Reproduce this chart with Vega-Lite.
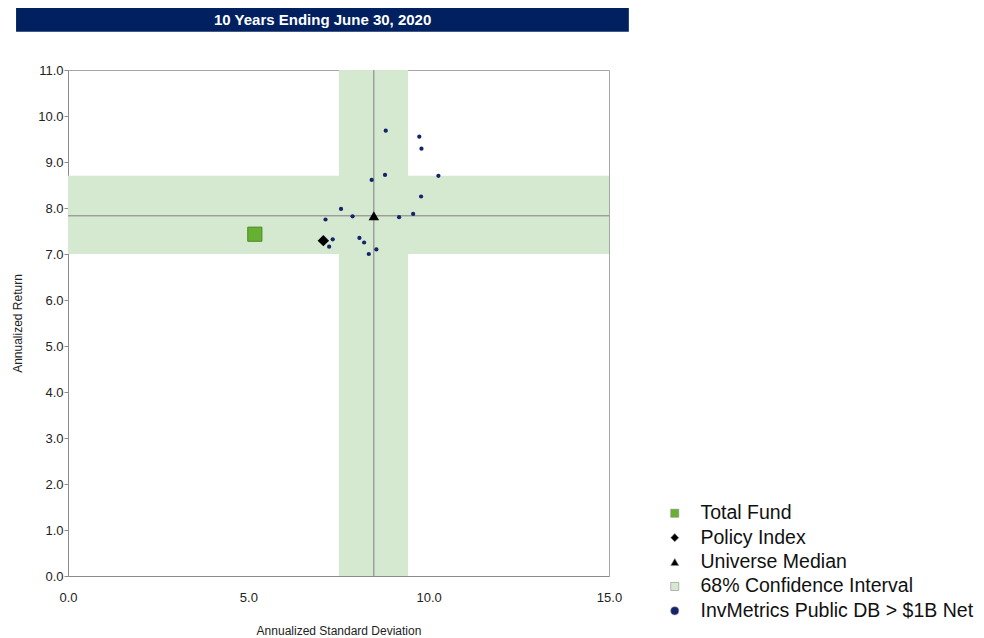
{
  "$schema": "https://vega.github.io/schema/vega-lite/v6.json",
  "autosize": {"type": "none"},
  "width": 541,
  "height": 506,
  "padding": {"left": 68, "top": 70, "right": 375, "bottom": 62},
  "background": "white",
  "config": {
    "view": {"stroke": "#a6a6a6", "strokeWidth": 1},
    "font": "Liberation Sans",
    "axis": {"grid": false, "labelFont": "Liberation Sans", "titleFont": "Liberation Sans", "labelColor": "#222", "titleColor": "#222", "titleFontWeight": "normal", "domainColor": "#8c8c8c", "tickColor": "#8c8c8c"},
    "legend": {"labelFont": "Liberation Sans", "labelFontSize": 19.5, "labelColor": "#111", "labelLimit": 0, "symbolSize": 65, "symbolStrokeWidth": 0.6, "symbolStrokeColor": "#8a8a8a"}
  },
  "datasets": {
    "points": [
      {"series": "Total Fund", "sd": 5.18, "ret": 7.43},
      {"series": "Policy Index", "sd": 7.08, "ret": 7.29},
      {"series": "Universe Median", "sd": 8.48, "ret": 7.83},
      {"series": "InvMetrics Public DB > $1B Net", "sd": 8.81, "ret": 9.68},
      {"series": "InvMetrics Public DB > $1B Net", "sd": 9.74, "ret": 9.55},
      {"series": "InvMetrics Public DB > $1B Net", "sd": 9.80, "ret": 9.29},
      {"series": "InvMetrics Public DB > $1B Net", "sd": 10.27, "ret": 8.70},
      {"series": "InvMetrics Public DB > $1B Net", "sd": 8.79, "ret": 8.72},
      {"series": "InvMetrics Public DB > $1B Net", "sd": 8.42, "ret": 8.61},
      {"series": "InvMetrics Public DB > $1B Net", "sd": 9.79, "ret": 8.25},
      {"series": "InvMetrics Public DB > $1B Net", "sd": 7.57, "ret": 7.98},
      {"series": "InvMetrics Public DB > $1B Net", "sd": 7.14, "ret": 7.75},
      {"series": "InvMetrics Public DB > $1B Net", "sd": 7.89, "ret": 7.82},
      {"series": "InvMetrics Public DB > $1B Net", "sd": 9.18, "ret": 7.80},
      {"series": "InvMetrics Public DB > $1B Net", "sd": 9.57, "ret": 7.87},
      {"series": "InvMetrics Public DB > $1B Net", "sd": 7.34, "ret": 7.32},
      {"series": "InvMetrics Public DB > $1B Net", "sd": 7.24, "ret": 7.16},
      {"series": "InvMetrics Public DB > $1B Net", "sd": 8.08, "ret": 7.35},
      {"series": "InvMetrics Public DB > $1B Net", "sd": 8.21, "ret": 7.25},
      {"series": "InvMetrics Public DB > $1B Net", "sd": 8.34, "ret": 7.00},
      {"series": "InvMetrics Public DB > $1B Net", "sd": 8.55, "ret": 7.10}
    ],
    "ci": [
      {"sd_lo": 7.51, "sd_hi": 9.43, "ret_lo": 7.0, "ret_hi": 8.70, "sd_med": 8.48, "ret_med": 7.83}
    ],
    "heading": [
      {"label": "10 Years Ending June 30, 2020"}
    ]
  },
  "encoding": {
    "x": {"type": "quantitative", "scale": {"domain": [0, 15], "nice": false, "zero": false}, "axis": {"values": [0, 5, 10, 15], "format": ".1f", "title": "Annualized Standard Deviation", "labelFontSize": 13, "titleFontSize": 12, "ticks": false, "labelPadding": 15, "titleY": 54, "titleBaseline": "middle", "labelFlush": false}},
    "y": {"type": "quantitative", "scale": {"domain": [0, 11], "nice": false, "zero": false}, "axis": {"values": [0, 1, 2, 3, 4, 5, 6, 7, 8, 9, 10, 11], "format": ".1f", "title": "Annualized Return", "labelFontSize": 13, "titleFontSize": 12, "tickSize": 4, "labelPadding": 1, "titleX": -51, "titleY": 253, "titleAlign": "center", "titleBaseline": "middle", "labelFlush": false}}
  },
  "layer": [
    {
      "data": {"name": "ci"},
      "mark": {"type": "rect", "color": "#d5e8d0"},
      "encoding": {"x": {"field": "sd_lo"}, "x2": {"field": "sd_hi"}, "y": {"datum": 0}, "y2": {"datum": 11}}
    },
    {
      "data": {"name": "ci"},
      "mark": {"type": "rect", "color": "#d5e8d0"},
      "encoding": {"y": {"field": "ret_lo"}, "y2": {"field": "ret_hi"}, "x": {"datum": 0}, "x2": {"datum": 15}}
    },
    {
      "data": {"name": "ci"},
      "mark": {"type": "rule", "color": "#7f7f7f", "strokeWidth": 1},
      "encoding": {"x": {"field": "sd_med"}, "y": {"datum": 0}, "y2": {"datum": 11}}
    },
    {
      "data": {"name": "ci"},
      "mark": {"type": "rule", "color": "#7f7f7f", "strokeWidth": 1},
      "encoding": {"y": {"field": "ret_med"}, "x": {"datum": 0}, "x2": {"datum": 15}}
    },
    {
      "data": {"name": "points"},
      "transform": [{"filter": "datum.series === 'InvMetrics Public DB > $1B Net'"}],
      "mark": {"type": "point", "filled": true, "opacity": 1, "size": 18},
      "encoding": {
        "x": {"field": "sd"}, "y": {"field": "ret"},
        "color": {"field": "series", "type": "nominal", "scale": {"domain": ["Total Fund", "Policy Index", "Universe Median", "68% Confidence Interval", "InvMetrics Public DB > $1B Net"], "range": ["#66b032", "#000000", "#000000", "#d5e8d0", "#14246b"]}, "legend": {"title": null, "orient": "none", "legendX": 597, "legendY": 433.5, "labelOffset": 16, "rowPadding": 3.4, "padding": 0}},
        "shape": {"field": "series", "type": "nominal", "scale": {"domain": ["Total Fund", "Policy Index", "Universe Median", "68% Confidence Interval", "InvMetrics Public DB > $1B Net"], "range": ["square", "diamond", "triangle-up", "square", "circle"]}, "legend": {"title": null, "orient": "none", "legendX": 597, "legendY": 433.5, "labelOffset": 16, "rowPadding": 3.4, "padding": 0}}
      }
    },
    {
      "data": {"name": "points"},
      "transform": [{"filter": "datum.series === 'Universe Median'"}],
      "mark": {"type": "point", "filled": true, "opacity": 1, "size": 110},
      "encoding": {"x": {"field": "sd"}, "y": {"field": "ret"}, "color": {"field": "series", "type": "nominal"}, "shape": {"field": "series", "type": "nominal"}}
    },
    {
      "data": {"name": "points"},
      "transform": [{"filter": "datum.series === 'Policy Index'"}],
      "mark": {"type": "point", "filled": true, "opacity": 1, "size": 130},
      "encoding": {"x": {"field": "sd"}, "y": {"field": "ret"}, "color": {"field": "series", "type": "nominal"}, "shape": {"field": "series", "type": "nominal"}}
    },
    {
      "data": {"name": "points"},
      "transform": [{"filter": "datum.series === 'Total Fund'"}],
      "mark": {"type": "point", "filled": true, "opacity": 1, "size": 200, "stroke": "#4a8a22", "strokeWidth": 1},
      "encoding": {"x": {"field": "sd"}, "y": {"field": "ret"}, "color": {"field": "series", "type": "nominal"}, "shape": {"field": "series", "type": "nominal"}}
    },
    {
      "data": {"name": "heading"},
      "mark": {"type": "rect", "color": "#002060", "clip": false},
      "encoding": {"x": {"datum": -1.44}, "x2": {"datum": 15.55}, "y": {"datum": 12.35}, "y2": {"datum": 11.83}}
    },
    {
      "data": {"name": "heading"},
      "mark": {"type": "text", "color": "white", "font": "Liberation Sans", "fontWeight": "bold", "fontSize": 15, "align": "center", "baseline": "middle", "clip": false},
      "encoding": {"x": {"datum": 7.06}, "y": {"datum": 12.09}, "text": {"field": "label"}}
    }
  ]
}
